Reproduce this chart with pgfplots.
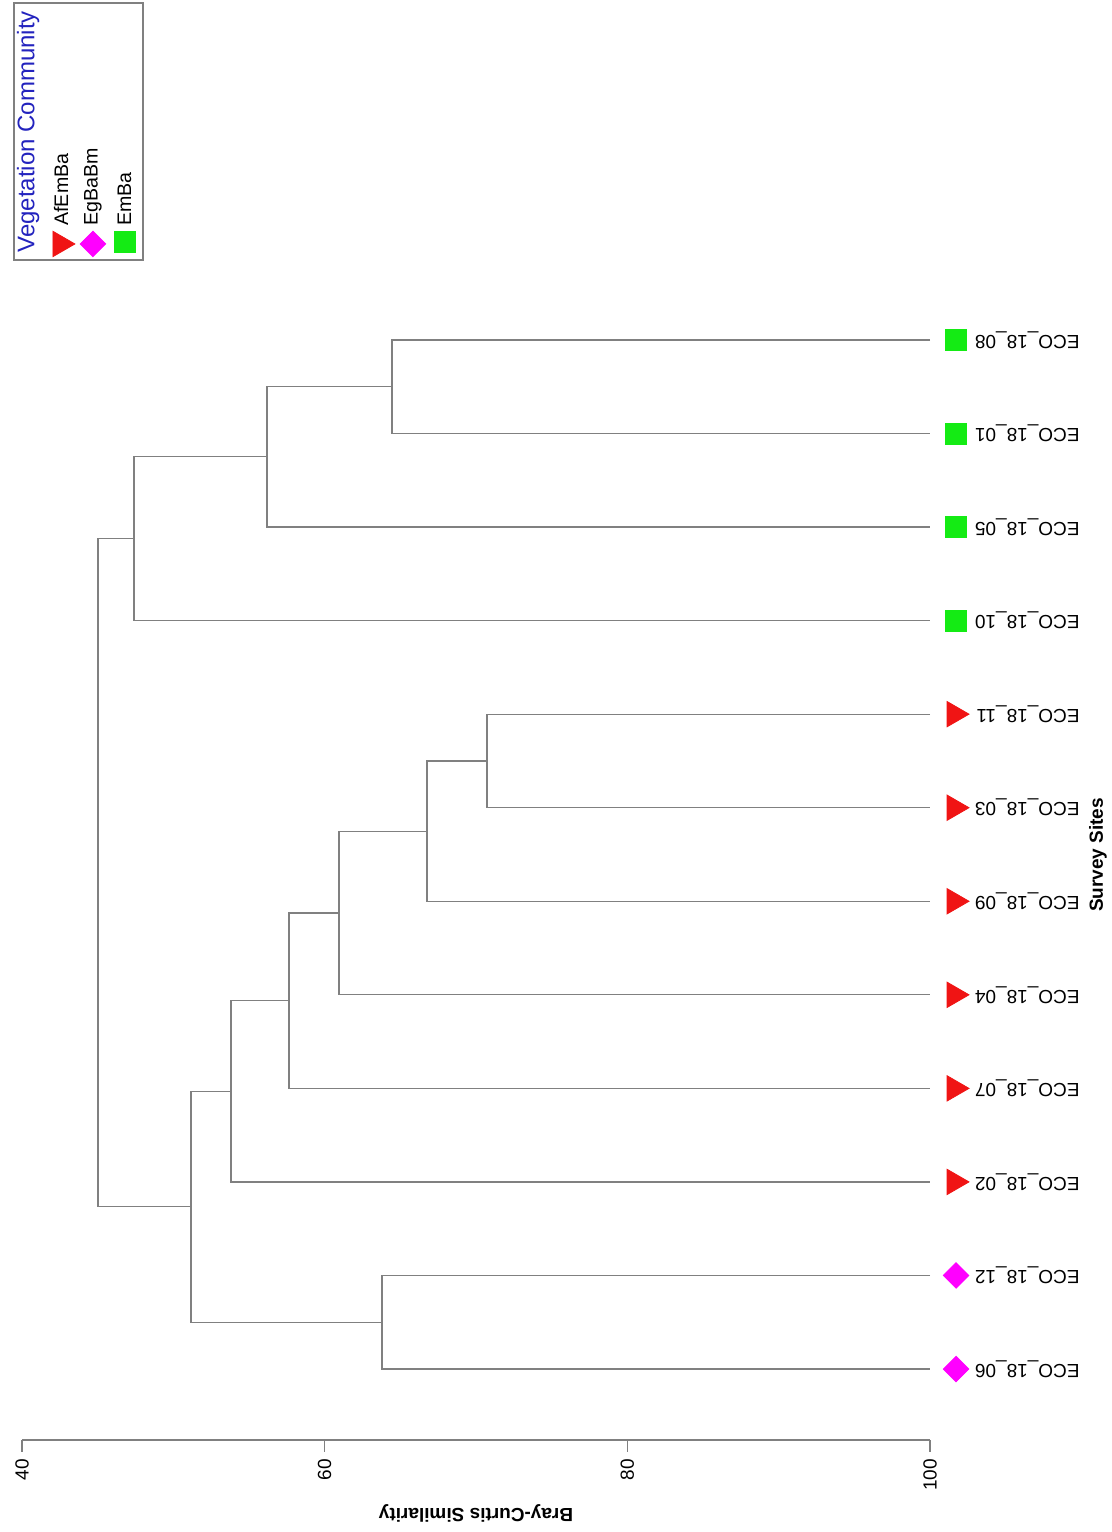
\documentclass[border=0pt]{standalone}
\usepackage{fontspec}
\setmainfont{Liberation Sans}
\usepackage{pgfplots}
\pgfplotsset{compat=1.18}
\definecolor{legblue}{RGB}{35,35,190}
\definecolor{mred}{RGB}{240,20,20}
\definecolor{mmag}{RGB}{255,0,255}
\definecolor{mgreen}{RGB}{20,235,20}
\definecolor{lgray}{RGB}{128,128,128}
\tikzset{leaf/.style={rotate=180, anchor=west, inner sep=0pt, font=\fontsize{9.5}{11}\selectfont},
 dend/.style={lgray, line width=0.6pt, solid, mark=none}}
\begin{document}
\begin{tikzpicture}
\begin{axis}[
 scale only axis, width=454pt, height=719.96pt,
 xmin=40, xmax=100, ymin=-11.758, ymax=3.634,
 axis y line=none, ytick=\empty,
 axis x line=bottom, x axis line style={-, lgray, line width=0.6pt},
 xtick={40,60,80,100}, tick align=outside, major tick length=6pt,
 tick style={lgray, line width=0.6pt},
 xticklabel style={rotate=90, anchor=east, font=\fontsize{9.5}{11}\selectfont},
 /pgf/number format/assume math mode=true,
 clip=false,
]
% dendrogram
\addplot[dend] coordinates {(100,0) (64.45,0) (64.45,-1) (100,-1)};
\addplot[dend] coordinates {(64.45,-0.5) (56.19,-0.5) (56.19,-2) (100,-2)};
\addplot[dend] coordinates {(56.19,-1.25) (47.40,-1.25) (47.40,-3) (100,-3)};
\addplot[dend] coordinates {(100,-4) (70.73,-4) (70.73,-5) (100,-5)};
\addplot[dend] coordinates {(70.73,-4.5) (66.76,-4.5) (66.76,-6) (100,-6)};
\addplot[dend] coordinates {(66.76,-5.25) (60.95,-5.25) (60.95,-7) (100,-7)};
\addplot[dend] coordinates {(60.95,-6.125) (57.64,-6.125) (57.64,-8) (100,-8)};
\addplot[dend] coordinates {(57.64,-7.0625) (53.81,-7.0625) (53.81,-9) (100,-9)};
\addplot[dend] coordinates {(100,-10) (63.79,-10) (63.79,-11) (100,-11)};
\addplot[dend] coordinates {(53.81,-8.03125) (51.17,-8.03125) (51.17,-10.5) (63.79,-10.5)};
\addplot[dend] coordinates {(47.40,-2.125) (45.02,-2.125) (45.02,-9.265625) (51.17,-9.265625)};
% markers
\addplot[only marks, mark=triangle*, mark size=7.3pt, mred, mark options={rotate=-90, fill=mred, draw=none}]
 coordinates {(101.61,-4) (101.61,-5) (101.61,-6) (101.61,-7) (101.61,-8) (101.61,-9) (42.53,1.026)};
\addplot[only marks, mark=square*, mark size=4.5pt, mmag, mark options={rotate=45, fill=mmag, draw=none}]
 coordinates {(101.72,-10) (101.72,-11) (44.69,1.026)};
\addplot[only marks, mark=square*, mark size=5.25pt, mgreen, mark options={fill=mgreen, draw=none}]
 coordinates {(101.72,0) (101.72,-1) (101.72,-2) (101.72,-3) (46.81,1.048)};
% leaf labels
\node[leaf] at (axis cs:109.91,0) {ECO\_18\_08};
\node[leaf] at (axis cs:109.91,-1) {ECO\_18\_01};
\node[leaf] at (axis cs:109.91,-2) {ECO\_18\_05};
\node[leaf] at (axis cs:109.91,-3) {ECO\_18\_10};
\node[leaf] at (axis cs:109.91,-4) {ECO\_18\_11};
\node[leaf] at (axis cs:109.91,-5) {ECO\_18\_03};
\node[leaf] at (axis cs:109.91,-6) {ECO\_18\_09};
\node[leaf] at (axis cs:109.91,-7) {ECO\_18\_04};
\node[leaf] at (axis cs:109.91,-8) {ECO\_18\_07};
\node[leaf] at (axis cs:109.91,-9) {ECO\_18\_02};
\node[leaf] at (axis cs:109.91,-10) {ECO\_18\_12};
\node[leaf] at (axis cs:109.91,-11) {ECO\_18\_06};
% axis titles
\node[rotate=180, font=\bfseries\fontsize{9.5}{11}\selectfont] at (axis cs:70,-12.54) {Bray-Curtis Similarity};
\node[rotate=90, font=\bfseries\fontsize{9.5}{11}\selectfont] at (axis cs:111.1,-5.505) {Survey Sites};
% legend
\draw[lgray, line width=0.6pt] (axis cs:39.471,3.602) rectangle (axis cs:47.996,0.855);
\node[rotate=90, anchor=west, inner sep=0pt, text=legblue, font=\fontsize{12}{14}\selectfont] at (axis cs:40.4,0.93) {Vegetation Community};
\node[rotate=90, anchor=west, inner sep=0pt, font=\fontsize{9.8}{11}\selectfont] at (axis cs:42.58,1.2186) {AfEmBa};
\node[rotate=90, anchor=west, inner sep=0pt, font=\fontsize{9.8}{11}\selectfont] at (axis cs:44.69,1.2186) {EgBaBm};
\node[rotate=90, anchor=west, inner sep=0pt, font=\fontsize{9.8}{11}\selectfont] at (axis cs:46.77,1.2186) {EmBa};
\coordinate (bbA) at (axis cs:38.546,3.634);
\coordinate (bbB) at (axis cs:111.965,-12.742);
\end{axis}
\pgfresetboundingbox
\path (bbA) rectangle (bbB);
\end{tikzpicture}
\end{document}
